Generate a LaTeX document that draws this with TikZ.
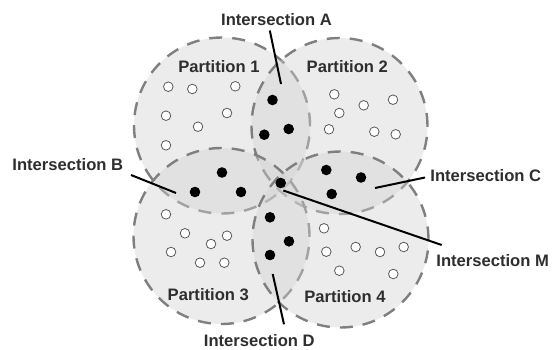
\documentclass[tikz,border=0pt]{standalone}
\usepackage{fontspec}
\setmainfont{Liberation Sans}
\definecolor{dashgray}{HTML}{7F7F7F}
\definecolor{partfill}{HTML}{D2D2D2}
\definecolor{txt}{HTML}{2E2E2E}
\definecolor{wdraw}{HTML}{5A5A5A}
\begin{document}
\begin{tikzpicture}[x=1pt,y=-1pt,
  part/.style={circle, draw=dashgray, line width=2.4pt, dash pattern=on 13pt off 10pt,
    fill=partfill, fill opacity=0.42, minimum size=176pt, inner sep=0pt},
  bdot/.style={circle, fill=black, minimum size=10.6pt, inner sep=0pt},
  wdot/.style={circle, draw=wdraw, fill=white, line width=0.8pt, minimum size=9.6pt, inner sep=0pt},
  lbl/.style={anchor=base, inner sep=0pt, text=txt, font=\fontsize{16.6}{20}\selectfont\bfseries},
  lead/.style={draw=black, line width=2pt}]
\useasboundingbox (0,0) rectangle (552,349);
% partitions
\node[part] (p1) at (222,125.5) {};
\node[part] (p2) at (339.5,126) {};
\node[part] (p3) at (221.5,236) {};
\node[part] (p4) at (340.5,239.5) {};
% white dots
\foreach \x/\y [count=\i] in {168.3/86.7,192.3/89,235.3/86.3,166/115.7,227/113,198/126.7,166/145.3,
  334.3/94.3,363.7/105.3,393/99.7,339.3/113,329/129.3,374.3/131.7,395.7/134.3,
  166/214.3,185/233.3,227/235.7,211/244,171/252,200/262.7,224.3/262.7,
  324/228.3,326.3/251.7,355.7/247,380/252,403.7/247,339.3/270.7,393.3/274}
  \node[wdot] (w\i) at (\x,\y) {};
% black dots
\node[bdot] (a1) at (272.5,100) {};
\node[bdot] (a2) at (264.3,134.7) {};
\node[bdot] (a3) at (288.7,129) {};
\node[bdot] (b1) at (222,172.5) {};
\node[bdot] (b2) at (195,192) {};
\node[bdot] (b3) at (241,192) {};
\node[bdot] (c1) at (326.3,170) {};
\node[bdot] (c2) at (361,177.5) {};
\node[bdot] (c3) at (331.7,194) {};
\node[bdot] (d1) at (270,217.3) {};
\node[bdot] (d2) at (289,241.3) {};
\node[bdot] (d3) at (270,255) {};
\node[bdot] (m) at (280.7,183) {};
% labels
\node[lbl] (lp1) at (219,72.7) {Partition 1};
\node[lbl] (lp2) at (347.3,72.7) {Partition 2};
\node[lbl] (lp3) at (208.3,300.7) {Partition 3};
\node[lbl] (lp4) at (345,302.7) {Partition 4};
\node[lbl] (la) at (276.5,25.7) {Intersection A};
\node[lbl] (lb) at (67.8,170) {Intersection B};
\node[lbl] (lc) at (485.8,181) {Intersection C};
\node[lbl] (lm) at (492.7,266.7) {Intersection M};
\node[lbl] (ld) at (259.3,346.7) {Intersection D};
% leader line ends
\coordinate (ea1) at (269.8,30.5);
\coordinate (ea2) at (281,84);
\coordinate (eb1) at (131,175);
\coordinate (eb2) at (176,193);
\coordinate (ec1) at (425,177.5);
\coordinate (ec2) at (375,188);
\coordinate (em1) at (283.3,190.5);
\coordinate (em2) at (441.7,245);
\coordinate (ed1) at (272.7,274);
\coordinate (ed2) at (284,324.3);
\draw[lead] (ea1) -- (ea2);
\draw[lead] (eb1) -- (eb2);
\draw[lead] (ec1) -- (ec2);
\draw[lead] (em1) -- (em2);
\draw[lead] (ed1) -- (ed2);
\end{tikzpicture}
\end{document}
